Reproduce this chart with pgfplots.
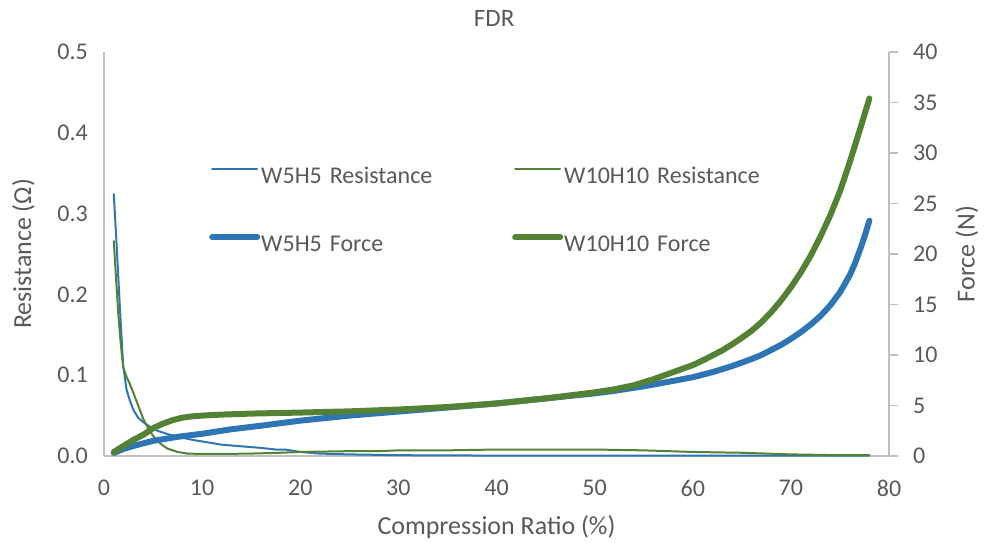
\documentclass[border=0pt]{standalone}
\usepackage{pgfplots}
\pgfplotsset{compat=1.18}
\usepackage{fontspec}
\setmainfont{Carlito}

\definecolor{txtgray}{HTML}{595959}
\definecolor{axgray}{HTML}{BFBFBF}
\definecolor{xlblue}{HTML}{2E75B6}
\definecolor{xlgreen}{HTML}{548235}

\newcommand{\tickfont}{\fontsize{24}{28}\selectfont}
\newcommand{\labfont}{\fontsize{26}{30}\selectfont}
\newcommand{\ttlfont}{\fontsize{25}{30}\selectfont}

\pgfplotsset{
  base/.style={
    at={(104pt,86pt)}, anchor=south west,
    scale only axis, width=785pt, height=404pt,
    xmin=0, xmax=80,
    axis line style={draw=axgray, line width=1.2pt, -},
    /pgf/number format/assume math mode=true,
  },
  res/.style={line width=2pt, line cap=round, line join=round},
  frc/.style={line width=6pt, line cap=round, line join=round},
}

\begin{document}
\begin{tikzpicture}
\useasboundingbox (0,0) rectangle (989pt,542pt);

% left axis: resistance
\begin{axis}[base,
    ymin=0, ymax=0.5, clip=false,
    axis x line*=bottom, axis y line*=left,
    xtick={0,10,20,30,40,50,60,70,80},
    ytick={0,0.1,0.2,0.3,0.4,0.5},
    major tick length=0pt,
    yticklabel style={/pgf/number format/fixed, /pgf/number format/fixed zerofill, /pgf/number format/precision=1},
    xticklabel style={font=\tickfont, text=txtgray, inner sep=0pt, anchor=north, yshift=-24pt},
    yticklabel style={font=\tickfont, text=txtgray, inner sep=0pt, anchor=east, xshift=-16pt},
    xlabel={Compression Ratio (\%)},
    xlabel style={at={(axis description cs:0.5,-0.1758)}, anchor=center, font=\labfont, text=txtgray},
    ylabel={Resistance (Ω)},
    ylabel style={at={(axis description cs:-0.1025,0.5)}, anchor=center, font=\labfont, text=txtgray},
  ]
  % W5H5 Resistance
  \addplot[res, xlblue] coordinates {
    (1.0,0.324) (1.3,0.258) (1.6,0.188) (1.95,0.112) (2.3,0.082) (2.6,0.070)
    (3.0,0.057) (3.5,0.047) (4.0,0.042) (4.7,0.036) (5.5,0.031) (6.5,0.027)
    (7.5,0.024) (9.0,0.020) (10.5,0.017) (12,0.014) (14,0.012) (16,0.010)
    (17.5,0.008) (18.5,0.008) (20,0.005) (22,0.003) (25,0.002) (30,0.001)
    (40,0.0005) (50,0.0005) (60,0.0005) (70,0.0005) (78,0.0005)
  };
  % W10H10 Resistance
  \addplot[res, xlgreen] coordinates {
    (1.0,0.266) (1.2,0.225) (1.45,0.177) (1.7,0.140) (1.95,0.110) (2.3,0.098)
    (2.6,0.090) (3.0,0.078) (3.5,0.062) (4.0,0.046) (4.5,0.034) (5.0,0.025)
    (5.5,0.018) (6.0,0.013) (6.5,0.009) (7.5,0.005) (8.5,0.003) (10,0.0025)
    (12,0.0025) (15,0.003) (18,0.004) (20,0.005) (25,0.006) (28,0.006)
    (30,0.007) (35,0.007) (40,0.008) (45,0.008) (50,0.008) (55,0.007)
    (60,0.005) (65,0.004) (70,0.002) (75,0.001) (78,0.001)
  };
  \node[font=\ttlfont, text=txtgray, anchor=center]
    at (axis description cs:0.497,1.084) {FDR};
\end{axis}

% right axis: force
\begin{axis}[base,
    ymin=0, ymax=40,
    axis x line=none, axis y line*=right,
    ytick={0,5,10,15,20,25,30,35,40},
    tick align=outside, major tick length=9pt,
    tick style={draw=axgray, line width=1.2pt},
    yticklabel style={font=\tickfont, text=txtgray, inner sep=0pt, anchor=west, xshift=15pt},
    ylabel={Force (N)},
    ylabel style={at={(axis description cs:1.0994,0.5)}, anchor=center, font=\labfont, text=txtgray},
    legend columns=2,
    legend style={draw=none, fill=none, inner sep=0pt,
      at={(axis description cs:0.1338,0.7153)}, anchor=north west,
      font=\fontsize{24}{28}\selectfont, text=txtgray,
      nodes={inner xsep=1pt, inner ysep=0pt, text width=250pt, align=left},
      row sep=49pt},
    legend image code/.code={\draw[#1] (0pt,7.7pt) -- (45pt,7.7pt);},
  ]
  \addlegendimage{res, xlblue}
  \addlegendentry{W5H5 Resistance}
  \addlegendimage{res, xlgreen}
  \addlegendentry{W10H10 Resistance}
  % W5H5 Force
  \addplot[frc, xlblue] coordinates {
    (1.0,0.3) (2.0,0.7) (3.0,1.0) (5.0,1.5) (7.5,1.9) (10,2.2) (13,2.65)
    (16,3.0) (18,3.25) (20,3.5) (25,4.0) (30,4.4) (35,4.8) (40,5.2) (45,5.7)
    (50,6.2) (52,6.45) (55,6.9) (57,7.25) (60,7.8) (62,8.3) (64,8.9)
    (66,9.6) (67,10.0) (68,10.5) (69,11.0) (70,11.6) (71,12.25) (72,13.0)
    (73,13.85) (74,14.9) (75,16.2) (76,17.9) (76.5,19.0) (77,20.3)
    (77.5,21.7) (78,23.3)
  };
  \addlegendentry{W5H5 Force}
  % W10H10 Force
  \addplot[frc, xlgreen] coordinates {
    (1.0,0.4) (2.0,1.0) (3.0,1.6) (4.0,2.1) (5.0,2.75) (6.0,3.2) (7.0,3.55)
    (8.0,3.8) (9.0,3.93) (10,4.0) (12,4.1) (15,4.2) (20,4.3) (25,4.42)
    (30,4.6) (35,4.85) (40,5.2) (45,5.7) (50,6.3) (52,6.6) (54,7.0)
    (56,7.6) (58,8.3) (60,9.0) (61,9.45) (62,9.95) (63,10.45) (64,11.05)
    (65,11.7) (66,12.4) (67,13.25) (68,14.25) (69,15.4) (70,16.7) (71,18.15)
    (72,19.8) (73,21.7) (74,23.8) (75,26.2) (76,29.1) (77,32.2) (78,35.4)
  };
  \addlegendentry{W10H10 Force}
\end{axis}
\end{tikzpicture}
\end{document}
